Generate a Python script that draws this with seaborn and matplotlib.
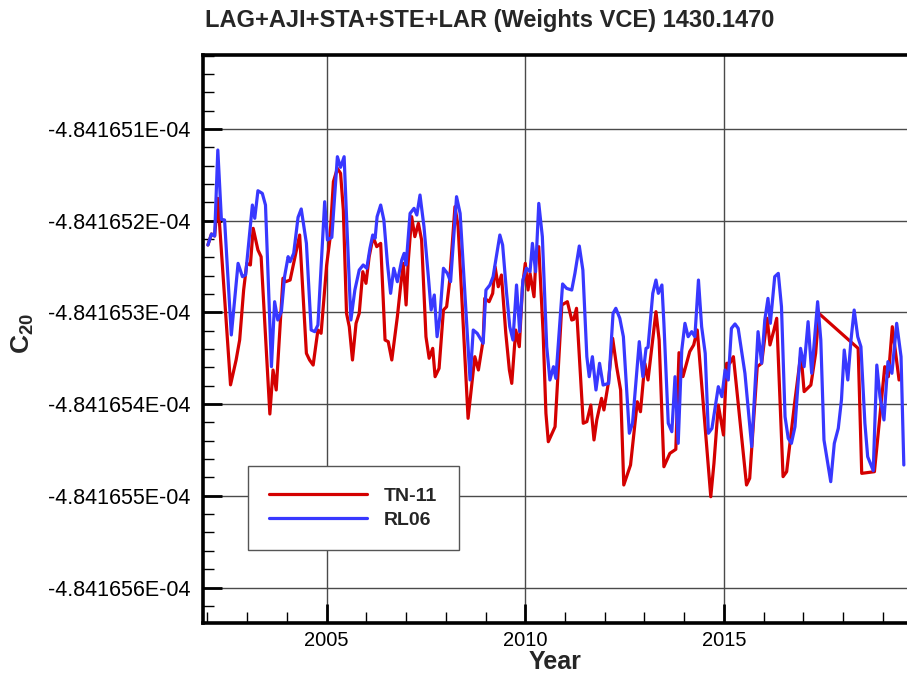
import matplotlib
matplotlib.use("Agg")
import matplotlib.pyplot as plt
from matplotlib.ticker import MultipleLocator, FixedLocator, FuncFormatter
import numpy as np
import pandas as pd
import seaborn as sns

# ---------------- data (C20 in units of 1E-04) ----------------
years_tn11 = [2002.01, 2002.10, 2002.18, 2002.26, 2002.58, 2002.72, 2002.81, 2002.91, 2002.99, 2003.08,
              2003.15, 2003.27, 2003.35, 2003.57, 2003.65, 2003.73, 2003.90, 2003.97, 2004.08, 2004.32,
              2004.49, 2004.57, 2004.66, 2004.78, 2004.86, 2005.00, 2005.08, 2005.17, 2005.27, 2005.35,
              2005.42, 2005.50, 2005.57, 2005.65, 2005.74, 2005.82, 2005.91, 2005.99, 2006.07, 2006.17,
              2006.26, 2006.36, 2006.47, 2006.55, 2006.64, 2006.78, 2006.86, 2006.93, 2007.00, 2007.05,
              2007.14, 2007.22, 2007.31, 2007.39, 2007.50, 2007.58, 2007.67, 2007.73, 2007.83, 2007.94,
              2008.02, 2008.09, 2008.23, 2008.31, 2008.56, 2008.73, 2008.82, 2008.94, 2008.98, 2009.09,
              2009.18, 2009.24, 2009.32, 2009.40, 2009.51, 2009.60, 2009.66, 2009.76, 2009.85, 2009.93,
              2010.00, 2010.07, 2010.12, 2010.22, 2010.27, 2010.34, 2010.45, 2010.52, 2010.58, 2010.75,
              2010.92, 2011.06, 2011.17, 2011.22, 2011.29, 2011.46, 2011.55, 2011.65, 2011.73, 2011.80,
              2011.92, 2011.98, 2012.09, 2012.20, 2012.30, 2012.40, 2012.48, 2012.65, 2012.82, 2012.90,
              2013.01, 2013.09, 2013.29, 2013.37, 2013.49, 2013.64, 2013.79, 2013.87, 2013.97, 2014.14,
              2014.24, 2014.33, 2014.67, 2014.75, 2014.86, 2014.99, 2015.07, 2015.15, 2015.24, 2015.57,
              2015.65, 2015.84, 2015.95, 2016.09, 2016.16, 2016.26, 2016.33, 2016.49, 2016.58, 2016.78,
              2016.94, 2017.02, 2017.19, 2017.31, 2017.39, 2018.38, 2018.47, 2018.79, 2019.05, 2019.14,
              2019.24, 2019.41]
c20_tn11 = [-4.841652265, -4.841652145, -4.841652167, -4.841651756, -4.841653790, -4.841653520, -4.841653300,
            -4.841652756, -4.841652465, -4.841652483, -4.841652083, -4.841652320, -4.841652393, -4.841654108,
            -4.841653628, -4.841653846, -4.841652628, -4.841652665, -4.841652647, -4.841652156, -4.841653446,
            -4.841653519, -4.841653574, -4.841653192, -4.841653228, -4.841652483, -4.841652210, -4.841651574,
            -4.841651429, -4.841651483, -4.841651883, -4.841653010, -4.841653156, -4.841653519, -4.841653119,
            -4.841653010, -4.841652556, -4.841652683, -4.841652393, -4.841652174, -4.841652283, -4.841652247,
            -4.841653301, -4.841653319, -4.841653519, -4.841653047, -4.841652720, -4.841652465, -4.841652919,
            -4.841652465, -4.841651956, -4.841652174, -4.841652029, -4.841652210, -4.841653265, -4.841653500,
            -4.841653392, -4.841653701, -4.841653610, -4.841652974, -4.841652938, -4.841652683, -4.841651847,
            -4.841652065, -4.841654155, -4.841653483, -4.841653628, -4.841653301, -4.841652847, -4.841652883,
            -4.841652792, -4.841652502, -4.841652720, -4.841652592, -4.841653228, -4.841653628, -4.841653774,
            -4.841653192, -4.841653374, -4.841652720, -4.841652465, -4.841652756, -4.841652574, -4.841652829,
            -4.841652393, -4.841652283, -4.841653228, -4.841654100, -4.841654410, -4.841654247, -4.841652919,
            -4.841652883, -4.841653083, -4.841653076, -4.841652955, -4.841654209, -4.841654191, -4.841654010,
            -4.841654391, -4.841654173, -4.841653937, -4.841654064, -4.841653774, -4.841653283, -4.841653592,
            -4.841653846, -4.841654882, -4.841654664, -4.841653974, -4.841654083, -4.841653555, -4.841653737,
            -4.841652992, -4.841653301, -4.841654683, -4.841654537, -4.841654493, -4.841653439, -4.841653700,
            -4.841653428, -4.841653355, -4.841653192, -4.841655010, -4.841654646, -4.841654010, -4.841654337,
            -4.841653555, -4.841653555, -4.841653483, -4.841654882, -4.841654809, -4.841653592, -4.841653555,
            -4.841653064, -4.841653355, -4.841653192, -4.841653064, -4.841654791, -4.841654737, -4.841653991,
            -4.841653446, -4.841653864, -4.841653792, -4.841653446, -4.841653010, -4.841653392, -4.841654755,
            -4.841654737, -4.841653592, -4.841653701, -4.841653156, -4.841653737]

years_rl06 = [2002.01, 2002.10, 2002.18, 2002.26, 2002.35, 2002.43, 2002.60, 2002.77, 2002.88, 2002.96,
              2003.13, 2003.19, 2003.27, 2003.38, 2003.46, 2003.61, 2003.69, 2003.77, 2003.86, 2003.94,
              2004.03, 2004.08, 2004.17, 2004.28, 2004.36, 2004.49, 2004.61, 2004.70, 2004.78, 2004.95,
              2005.02, 2005.13, 2005.27, 2005.35, 2005.44, 2005.50, 2005.61, 2005.71, 2005.82, 2005.92,
              2006.01, 2006.09, 2006.16, 2006.22, 2006.27, 2006.36, 2006.44, 2006.53, 2006.61, 2006.69,
              2006.78, 2006.89, 2006.95, 2007.00, 2007.10, 2007.20, 2007.27, 2007.35, 2007.45, 2007.56,
              2007.63, 2007.71, 2007.78, 2007.85, 2007.94, 2008.04, 2008.12, 2008.27, 2008.36, 2008.61,
              2008.69, 2008.79, 2008.94, 2009.01, 2009.11, 2009.19, 2009.36, 2009.43, 2009.53, 2009.61,
              2009.69, 2009.78, 2009.86, 2009.94, 2010.03, 2010.12, 2010.18, 2010.26, 2010.34, 2010.43,
              2010.54, 2010.62, 2010.71, 2010.77, 2010.94, 2011.04, 2011.17, 2011.25, 2011.36, 2011.45,
              2011.55, 2011.61, 2011.69, 2011.78, 2011.87, 2011.96, 2012.10, 2012.21, 2012.28, 2012.38,
              2012.47, 2012.62, 2012.70, 2012.87, 2012.96, 2013.04, 2013.09, 2013.21, 2013.29, 2013.35,
              2013.44, 2013.49, 2013.60, 2013.69, 2013.77, 2013.85, 2013.94, 2014.02, 2014.10, 2014.19,
              2014.27, 2014.36, 2014.44, 2014.53, 2014.61, 2014.70, 2014.86, 2014.95, 2015.03, 2015.11,
              2015.19, 2015.28, 2015.36, 2015.53, 2015.70, 2015.86, 2015.95, 2016.03, 2016.11, 2016.17,
              2016.28, 2016.37, 2016.45, 2016.54, 2016.62, 2016.70, 2016.79, 2016.93, 2017.02, 2017.12,
              2017.21, 2017.36, 2017.44, 2017.52, 2017.69, 2017.78, 2017.88, 2017.96, 2018.03, 2018.12,
              2018.20, 2018.28, 2018.37, 2018.45, 2018.55, 2018.62, 2018.76, 2018.85, 2018.93, 2019.03,
              2019.13, 2019.23, 2019.35, 2019.46, 2019.53]
c20_rl06 = [-4.841652265, -4.841652145, -4.841652167, -4.841651229, -4.841651985, -4.841651992, -4.841653246,
            -4.841652465, -4.841652610, -4.841652590, -4.841651829, -4.841651974, -4.841651673, -4.841651702,
            -4.841651829, -4.841653592, -4.841652883, -4.841653083, -4.841652992, -4.841652610, -4.841652392,
            -4.841652447, -4.841652356, -4.841651963, -4.841651872, -4.841652246, -4.841653192, -4.841653210,
            -4.841653137, -4.841651793, -4.841652210, -4.841652181, -4.841651302, -4.841651418, -4.841651302,
            -4.841651956, -4.841653083, -4.841652756, -4.841652538, -4.841652483, -4.841652519, -4.841652301,
            -4.841652156, -4.841652192, -4.841651956, -4.841651829, -4.841651992, -4.841652465, -4.841652792,
            -4.841652519, -4.841652665, -4.841652429, -4.841652356, -4.841652483, -4.841651920, -4.841651865,
            -4.841651938, -4.841651720, -4.841652065, -4.841652610, -4.841652974, -4.841652810, -4.841653265,
            -4.841653047, -4.841652519, -4.841652574, -4.841652665, -4.841651738, -4.841651920, -4.841653737,
            -4.841653192, -4.841653228, -4.841653337, -4.841652756, -4.841652701, -4.841652610, -4.841652156,
            -4.841652265, -4.841652792, -4.841653156, -4.841653301, -4.841652701, -4.841653210, -4.841652647,
            -4.841652519, -4.841652556, -4.841652247, -4.841652556, -4.841651811, -4.841652174, -4.841653374,
            -4.841653737, -4.841653592, -4.841653719, -4.841652690, -4.841652738, -4.841652756, -4.841652574,
            -4.841652276, -4.841652538, -4.841653483, -4.841653701, -4.841653483, -4.841653846, -4.841653555,
            -4.841653792, -4.841653774, -4.841653010, -4.841652955, -4.841653064, -4.841653265, -4.841654318,
            -4.841654209, -4.841653319, -4.841653701, -4.841653392, -4.841653381, -4.841652792, -4.841652647,
            -4.841652792, -4.841652701, -4.841653119, -4.841654209, -4.841654301, -4.841653701, -4.841654428,
            -4.841653410, -4.841653119, -4.841653265, -4.841653210, -4.841653265, -4.841652647, -4.841653156,
            -4.841653446, -4.841654318, -4.841654264, -4.841653810, -4.841653919, -4.841653628, -4.841653737,
            -4.841653174, -4.841653126, -4.841653174, -4.841653664, -4.841654464, -4.841653210, -4.841653555,
            -4.841653083, -4.841652847, -4.841653119, -4.841652610, -4.841652574, -4.841652938, -4.841654137,
            -4.841654373, -4.841654428, -4.841654246, -4.841653392, -4.841653592, -4.841653101, -4.841653664,
            -4.841652883, -4.841653301, -4.841654391, -4.841654846, -4.841654428, -4.841654264, -4.841653955,
            -4.841653410, -4.841653737, -4.841653301, -4.841652974, -4.841653265, -4.841653374, -4.841654209,
            -4.841654573, -4.841654726, -4.841653574, -4.841653919, -4.841654173, -4.841653537, -4.841653664,
            -4.841653119, -4.841653483, -4.841654664]

series_names = ["TN-11", "RL06"]
series_colors = ["#d40000", "#3838ff"]
y_tick_values = [-4.841651, -4.841652, -4.841653, -4.841654, -4.841655, -4.841656]
x_tick_values = [2005, 2010, 2015]
title_text = "LAG+AJI+STA+STE+LAR (Weights VCE) 1430.1470"

# ---------------- style ----------------
sns.set_theme(style="white")
plt.rcParams["font.family"] = ["Liberation Sans", "DejaVu Sans"]
plt.rcParams["mathtext.fontset"] = "custom"
plt.rcParams["mathtext.rm"] = "Liberation Sans"
plt.rcParams["mathtext.bf"] = "Liberation Sans:bold"

fig = plt.figure(figsize=(9.07, 6.74), dpi=100)
ax = fig.add_axes([203 / 907, 1 - 623 / 674, 1 - 203 / 907, (623 - 55) / 674])

df_tn = pd.DataFrame({"Year": years_tn11, "C20": c20_tn11})
df_rl = pd.DataFrame({"Year": years_rl06, "C20": c20_rl06})
sns.lineplot(data=df_tn, x="Year", y="C20", color=series_colors[0], linewidth=2.3,
             estimator=None, sort=False, label=series_names[0], ax=ax, zorder=3)
sns.lineplot(data=df_rl, x="Year", y="C20", color=series_colors[1], linewidth=2.3,
             estimator=None, sort=False, label=series_names[1], ax=ax, zorder=4)

ax.set_xlim(2001.887, 2019.61)
ax.set_ylim(-4.8416563870, -4.8416501930)

ax.yaxis.set_major_locator(FixedLocator(y_tick_values))
ax.yaxis.set_minor_locator(MultipleLocator(2e-7))
ax.yaxis.set_major_formatter(FuncFormatter(lambda v, p: f"{v:.6f}E-04"))
ax.xaxis.set_major_locator(FixedLocator(x_tick_values))
ax.xaxis.set_minor_locator(MultipleLocator(1))

ax.tick_params(axis="both", which="major", direction="in", length=14, width=2,
               colors="black", left=True, bottom=True)
ax.tick_params(axis="both", which="minor", direction="in", length=8, width=1,
               left=True, bottom=True, color="black")
ax.tick_params(axis="y", which="major", pad=9, labelsize=15.5)
ax.tick_params(axis="x", which="major", pad=6, labelsize=14.5)

ax.grid(True, which="major", color="#4a4a4a", linewidth=1.0)
ax.set_axisbelow(True)
for side in ["left", "bottom", "top"]:
    ax.spines[side].set_color("black")
    ax.spines[side].set_linewidth(2.6)
ax.spines["right"].set_visible(False)

ax.set_xlabel("Year", fontsize=18, fontweight="bold")
ax.xaxis.set_label_coords(0.5, -(662 - 623) / 568)
ax.xaxis.label.set_va("center")
ax.set_ylabel(r"$\mathbf{C}_{\mathbf{20}}$", fontsize=19)
ax.yaxis.set_label_coords(-(203 - 23) / 704, 0.51)
ax.yaxis.label.set_va("center")

leg = ax.legend(loc="lower left", bbox_to_anchor=((248 - 203) / 704, (623 - 550) / 568),
                borderaxespad=0, fancybox=False, framealpha=1, edgecolor="#555555",
                prop={"weight": "bold", "size": 14}, handlelength=5.0, handletextpad=0.9,
                labelspacing=0.3, borderpad=1.1)
leg.get_frame().set_linewidth(1.0)
for line in leg.get_lines():
    line.set_linewidth(2.3)

fig.text(205 / 907, 1 - 20 / 674, title_text, ha="left", va="center",
         fontsize=17, fontweight="bold")

fig.savefig("out.png", dpi=100)
